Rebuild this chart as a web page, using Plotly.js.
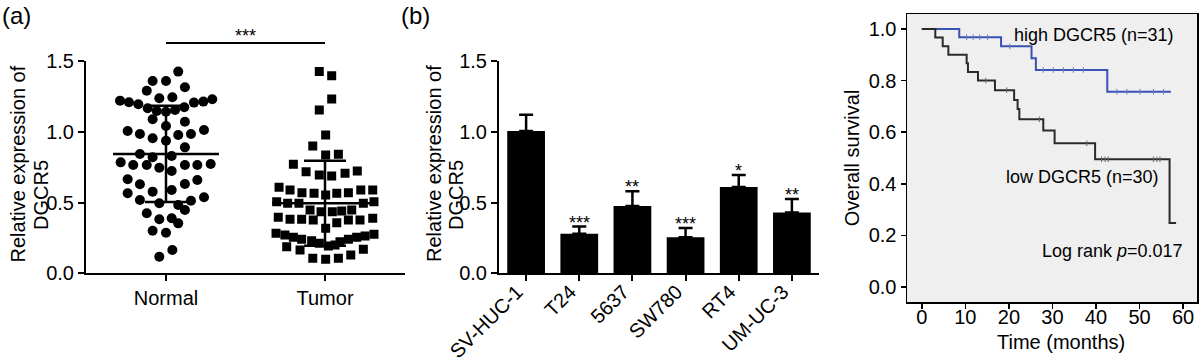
<!DOCTYPE html>
<html><head><meta charset="utf-8">
<script src="https://cdn.plot.ly/plotly-3.0.1.min.js"></script>
<style>html,body{margin:0;padding:0;background:#fff}#chart{width:1200px;height:362px}</style>
</head><body><div id="chart"></div>
<script>
// ---------- Panel (a): scatter of relative expression ----------
const groupNames = ['Normal', 'Tumor'];
const normalValues = [1.425,1.359,1.359,1.314,1.29,1.237,1.244,1.22,1.208,1.194,1.166,1.147,1.142,1.154,1.173,1.206,1.213,1.23,
  1.088,1.041,1.071,1.006,0.984,0.954,0.937,0.977,0.984,1.013,0.890,0.843,0.820,0.829,0.784,0.765,0.765,0.746,0.723,0.765,0.765,0.772,
  0.664,0.629,0.577,0.589,0.631,0.659,0.565,0.518,0.495,0.483,0.447,0.513,0.537,0.424,0.382,0.389,0.353,0.301,0.287,0.165,0.117];
const normalJitter = [0.077,-0.084,0,0.119,-0.121,-0.042,0.040,-0.289,-0.233,-0.174,-0.115,-0.058,0,0.057,0.115,0.176,0.235,0.291,
  -0.084,0,0.119,-0.241,-0.164,-0.084,0,0.077,0.157,0.239,0.119,-0.164,-0.084,0.036,-0.285,-0.206,-0.121,-0.042,0.036,0.119,0.197,0.281,
  -0.241,-0.164,-0.084,0.036,0.119,0.197,-0.241,-0.164,-0.042,0.077,0.119,0.157,0.239,-0.121,-0.042,0.036,0.077,-0.084,0,0.040,-0.042];
const tumorValues = [1.425,1.396,1.232,1.154,0.977,0.900,0.836,0.841,0.770,0.718,0.695,0.688,0.707,0.723,
  0.608,0.589,0.570,0.565,0.553,0.565,0.570,0.589,0.589,0.506,0.495,0.495,0.447,0.435,0.435,0.440,0.447,0.495,0.506,
  0.396,0.382,0.382,0.377,0.318,0.358,0.377,0.377,0.389,0.283,0.271,0.254,0.240,0.230,0.212,0.193,0.200,0.223,0.240,0.254,0.264,0.276,
  0.188,0.165,0.129,0.170,0.106,0.099,0.106];
const tumorJitter = [-0.036,0.042,0.042,-0.036,0.004,-0.077,0.004,0.084,-0.199,-0.119,-0.036,0.042,0.126,0.203,
  -0.289,-0.220,-0.145,-0.069,0.004,0.074,0.147,0.225,0.300,-0.304,-0.235,-0.164,-0.094,-0.025,0.046,0.105,0.168,0.241,0.308,
  -0.294,-0.220,-0.147,-0.074,0.004,0.074,0.147,0.220,0.300,-0.308,-0.252,-0.199,-0.147,-0.084,-0.036,0.021,0.063,0.094,0.147,0.199,0.252,0.308,
  -0.241,-0.157,0.162,0.241,-0.077,0.004,0.084];
const groupMeans = [0.843, 0.495];
const groupSD = [0.34, 0.30];
const exprTitleLines = ['Relative expression of', 'DGCR5'];

// ---------- Panel (b): cell lines ----------
const cellLines = ['SV-HUC-1', 'T24', '5637', 'SW780', 'RT4', 'UM-UC-3'];
const cellExpr = [1.005, 0.28, 0.475, 0.255, 0.61, 0.43];
const cellErr = [0.115, 0.05, 0.105, 0.065, 0.085, 0.095];
const cellSig = ['', '***', '**', '***', '*', '**'];

// ---------- Panel (c): Kaplan-Meier ----------
const highTime = [0, 8.6, 18.2, 25.2, 26.2, 42.6, 57.2];
const highSurv = [1, 0.968, 0.933, 0.887, 0.841, 0.757, 0.757];
const highCensorTime = [10.3, 11.8, 13.3, 15.1, 20.2, 27.9, 30.2, 32.5, 34.8, 37.1, 44.8, 47.1, 50.1, 53.2, 55.5];
const lowTime = [0, 3.1, 4.8, 6.1, 10.3, 10.6, 12.9, 16.8, 21.2, 22.0, 22.4, 27.9, 30.5, 39.8, 56.9, 58.4];
const lowSurv = [1, 0.967, 0.933, 0.900, 0.867, 0.833, 0.800, 0.763, 0.725, 0.690, 0.650, 0.607, 0.557, 0.495, 0.248, 0.248];
const lowCensorTime = [14.7, 19.5, 27.0, 37.9, 41.3, 42.1, 42.8, 53.2, 54.0, 54.7];
const groupLabels = ['high DGCR5 (n=31)', 'low DGCR5 (n=30)'];
const logRankText = 'Log rank <i>p</i>=0.017';

// ---------- helpers ----------
const W = 1200, H = 362;
const FONT = 'Liberation Sans, Arial, sans-serif';
const px = v => v / W;
const py = v => (H - v) / H;
function stepAt(times, surv, t) {
  let s = surv[0];
  for (let i = 0; i < times.length; i++) { if (times[i] <= t) s = surv[i]; }
  return s;
}

const traces = [];
// (a) points
traces.push({
  type: 'scatter', mode: 'markers', xaxis: 'x', yaxis: 'y', hoverinfo: 'y',
  x: normalValues.map((v, i) => 0 + normalJitter[i]), y: normalValues,
  marker: {symbol: 'circle', size: 10, color: '#000'}
});
traces.push({
  type: 'scatter', mode: 'markers', xaxis: 'x', yaxis: 'y', hoverinfo: 'y',
  x: tumorValues.map((v, i) => 1 + tumorJitter[i]), y: tumorValues,
  marker: {symbol: 'square', size: 9, color: '#000'}
});
// (a) mean lines
groupMeans.forEach((m, i) => {
  traces.push({
    type: 'scatter', mode: 'lines', xaxis: 'x', yaxis: 'y', hoverinfo: 'skip',
    x: [i - 0.333, i + 0.333], y: [m, m], line: {color: '#000', width: 2.5}
  });
});
// (a) SD bars
traces.push({
  type: 'scatter', mode: 'markers', xaxis: 'x', yaxis: 'y', hoverinfo: 'skip',
  x: [0, 1], y: groupMeans, marker: {size: 1, color: 'rgba(0,0,0,0)'},
  error_y: {type: 'data', array: groupSD, visible: true, color: '#000', thickness: 2.5, width: 21}
});
// (b) bars
traces.push({
  type: 'bar', xaxis: 'x2', yaxis: 'y2', x: cellLines, y: cellExpr, width: 0.71,
  marker: {color: '#000', line: {width: 0}},
  error_y: {type: 'data', symmetric: false, array: cellErr, arrayminus: cellErr.map(() => 0),
    visible: true, color: '#000', thickness: 2.5, width: 7}
});
// (c) curves
traces.push({
  type: 'scatter', mode: 'lines', xaxis: 'x3', yaxis: 'y3', x: highTime, y: highSurv,
  line: {shape: 'hv', color: '#3a52b3', width: 2}
});
traces.push({
  type: 'scatter', mode: 'lines', xaxis: 'x3', yaxis: 'y3', x: lowTime, y: lowSurv,
  line: {shape: 'hv', color: '#2a2a2a', width: 2}
});
traces.push({
  type: 'scatter', mode: 'markers', xaxis: 'x3', yaxis: 'y3', x: highCensorTime,
  y: highCensorTime.map(t => stepAt(highTime, highSurv, t)),
  marker: {symbol: 'line-ns', size: 4, line: {width: 1, color: '#6a7cc4'}}
});
traces.push({
  type: 'scatter', mode: 'markers', xaxis: 'x3', yaxis: 'y3', x: lowCensorTime,
  y: lowCensorTime.map(t => stepAt(lowTime, lowSurv, t)),
  marker: {symbol: 'line-ns', size: 4, line: {width: 1, color: '#666'}}
});

const tickFont = {family: FONT, size: 20, color: '#000'};
const titleFont = {family: FONT, size: 20, color: '#000'};
const axBase = {showgrid: false, zeroline: false, showline: true, linecolor: '#000', ticks: 'outside',
  tickcolor: '#000', tickfont: tickFont, automargin: false, fixedrange: true};

const annotations = [
  {xref: 'paper', yref: 'paper', x: 0, y: 1, xanchor: 'left', yanchor: 'top', text: '(a)', showarrow: false,
   font: {family: FONT, size: 24, color: '#000'}},
  {xref: 'paper', yref: 'paper', x: px(399), y: 1, xanchor: 'left', yanchor: 'top', text: '(b)', showarrow: false,
   font: {family: FONT, size: 24, color: '#000'}},
  {xref: 'x', yref: 'paper', x: 0.5, y: py(36), xanchor: 'center', yanchor: 'middle', text: '***', showarrow: false,
   font: {family: FONT, size: 18, color: '#000'}},
  // x-axis title of (c)
  {xref: 'paper', yref: 'paper', x: px(1061), y: py(342), xanchor: 'center', yanchor: 'middle',
   text: 'Time (months)', showarrow: false, font: titleFont},
  {xref: 'x3', yref: 'y3', x: 39.5, y: 0.977, text: groupLabels[0], showarrow: false,
   font: {family: FONT, size: 18, color: '#000'}},
  {xref: 'x3', yref: 'y3', x: 37.0, y: 0.426, text: groupLabels[1], showarrow: false,
   font: {family: FONT, size: 18, color: '#000'}},
  {xref: 'x3', yref: 'y3', x: 43.7, y: 0.14, text: logRankText, showarrow: false,
   font: {family: FONT, size: 18, color: '#000'}}
];
// y-axis titles of (a) and (b), one annotation per line
const titleLineX = [[17.5, 41], [434, 456]];
const titleLineShift = [0, -31];
titleLineX.forEach(pair => {
  exprTitleLines.forEach((line, k) => {
    annotations.push({xref: 'paper', yref: 'paper', x: px(pair[k]), y: py(164), xanchor: 'center', yanchor: 'middle',
      yshift: titleLineShift[k], textangle: -90, text: line, showarrow: false, font: titleFont});
  });
});
cellLines.forEach((c, i) => {
  if (cellSig[i]) annotations.push({
    xref: 'x2', yref: 'y2', x: i, y: cellExpr[i] + cellErr[i], xanchor: 'center', yanchor: 'bottom',
    yshift: -8, text: cellSig[i], showarrow: false, font: {family: FONT, size: 18, color: '#000'}
  });
});

const layout = {
  width: W, height: H, margin: {l: 0, r: 0, t: 0, b: 0}, showlegend: false,
  paper_bgcolor: '#fff', plot_bgcolor: 'rgba(0,0,0,0)', font: {family: FONT, color: '#000'},
  xaxis: Object.assign({}, axBase, {domain: [px(86), px(405)], range: [-0.503, 1.503], anchor: 'y',
    tickvals: [0, 1], ticktext: groupNames, linewidth: 2, tickwidth: 2, ticklen: 6}),
  yaxis: Object.assign({}, axBase, {domain: [py(273.3), py(61)], range: [0, 1.5], anchor: 'x', dtick: 0.5,
    tickformat: '.1f', linewidth: 2, tickwidth: 2, ticklen: 6}),
  xaxis2: Object.assign({}, axBase, {domain: [px(499), px(819)], type: 'category', range: [-0.51, 5.51], anchor: 'y2',
    tickangle: -45, linewidth: 2, tickwidth: 2, ticklen: 6, ticklabelshift: -9, ticklabelstandoff: -9}),
  yaxis2: Object.assign({}, axBase, {domain: [py(273.3), py(61)], range: [0, 1.5], anchor: 'x2', dtick: 0.5,
    tickformat: '.1f', linewidth: 2, tickwidth: 2, ticklen: 6}),
  xaxis3: Object.assign({}, axBase, {domain: [px(907), px(1197)], range: [-3.4, 63.2], anchor: 'y3', dtick: 10,
    linewidth: 1.5, tickwidth: 1.5, ticklen: 5, mirror: true, ticklabelstandoff: -9}),
  yaxis3: Object.assign({}, axBase, {domain: [py(302), py(14)], range: [-0.058, 1.058], anchor: 'x3', dtick: 0.2,
    tickformat: '.1f', linewidth: 1.5, tickwidth: 1.5, ticklen: 5, mirror: true,
    title: {text: 'Overall survival', font: titleFont, standoff: 3}}),
  shapes: [
    {type: 'rect', xref: 'x3 domain', yref: 'y3 domain', x0: 0, x1: 1, y0: 0, y1: 1,
     fillcolor: '#efefef', line: {width: 0}, layer: 'below'},
    {type: 'line', xref: 'x', yref: 'paper', x0: 0, x1: 1, y0: py(43), y1: py(43),
     line: {color: '#000', width: 2}}
  ],
  annotations: annotations
};

Plotly.newPlot('chart', traces, layout, {staticPlot: true, displayModeBar: false});
</script>
</body></html>
